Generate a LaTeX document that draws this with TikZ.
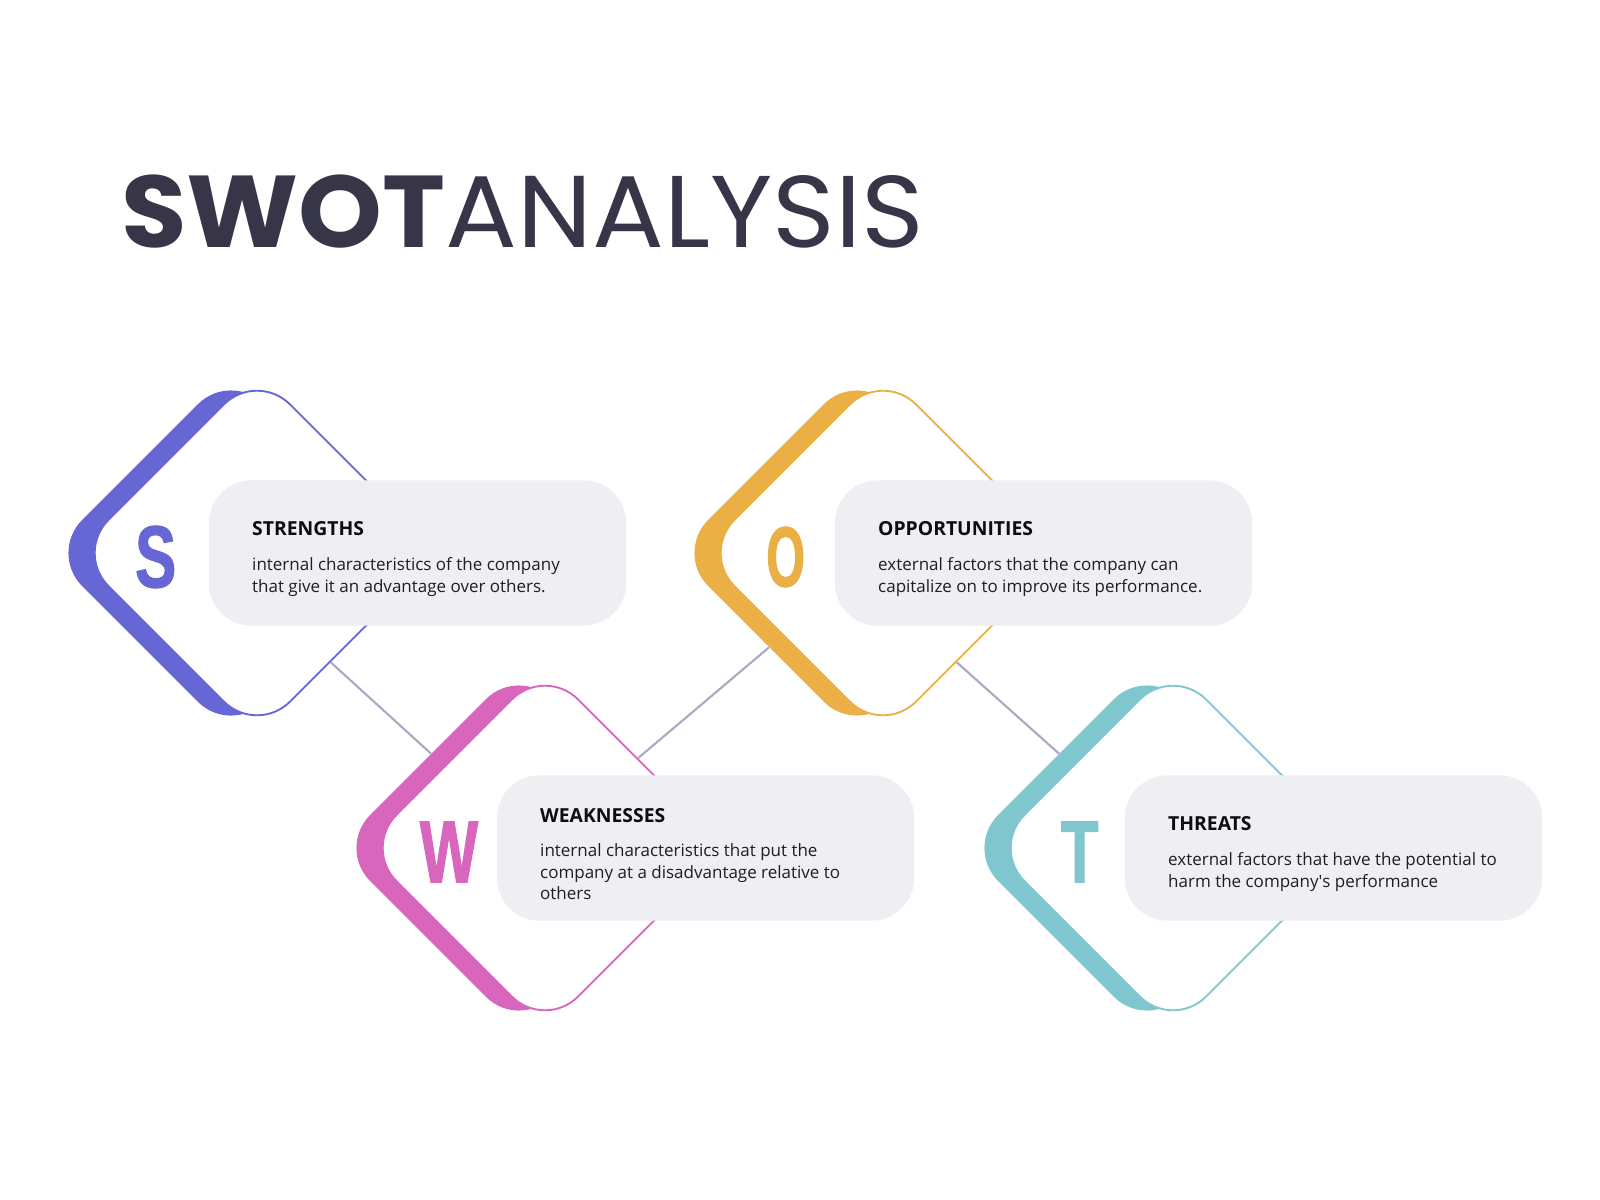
\documentclass[tikz,border=0pt]{standalone}
\usepackage{fontspec}
\setmainfont{Open Sans}
\newfontfamily\titlefont[FakeStretch=1.045]{Poppins}
\newfontfamily\letterfont[FakeStretch=0.7, FakeBold=1.2]{Liberation Sans}
\newfontfamily\roundletterfont[FakeStretch=0.58, FakeBold=1.2]{Liberation Sans}
\usepackage{tikz}
\usetikzlibrary{shapes.geometric,positioning}

\definecolor{scol}{HTML}{6666D5}
\definecolor{wcol}{HTML}{D766BC}
\definecolor{ocol}{HTML}{EAB045}
\definecolor{tcol}{HTML}{7FC6CE}
\definecolor{titlecol}{HTML}{373548}
\definecolor{boxcol}{HTML}{EEEEF3}
\definecolor{linkcol}{HTML}{ABA9C3}

\tikzset{
  backdiamond/.style = {diamond, minimum width = 273pt, minimum height = 273pt, inner sep = 0pt, rounded corners = 35pt, fill = #1},
  frontdiamond/.style = {diamond, minimum width = 273pt, minimum height = 273pt, inner sep = 0pt, rounded corners = 35pt, draw = #1, line width = 1.4pt, fill = white},
  bigletter/.style = {text = #1, inner sep = 0pt, yshift = -3pt, font = \letterfont\bfseries\fontsize{66pt}{66pt}\selectfont},
  infobox/.style = {shape = rectangle, rounded corners = 32pt, fill = boxcol, minimum width = 313pt, minimum height = 109pt},
  infotext/.style = {anchor = west, align = left, inner sep = 0pt, text = black!88, font = \fontsize{12.75pt}{16.1pt}\selectfont},
  link/.style = {draw = linkcol, line width = 1.6pt}
}
\newcommand{\swothead}[1]{{\fontsize{14.5pt}{16.1pt}\selectfont\bfseries\color{black!95}#1}}

\begin{document}
\begin{tikzpicture}[x = 0.75pt, y = -0.75pt]
\useasboundingbox (0,0) rectangle (1600,1200);

\node[anchor = base west, inner sep = 0pt, text = titlecol, font = \titlefont\fontsize{76.5pt}{80pt}\selectfont] (title) at (121,247) {{\bfseries SWOT}ANALYSIS};

% shadows and diamonds
\node[backdiamond = scol, xshift = -19.5pt] (Ssh) at (257,553) {};
\node[backdiamond = wcol, xshift = -19.5pt] (Wsh) at (545,848) {};
\node[backdiamond = ocol, xshift = -19.5pt] (Osh) at (883,553) {};
\node[backdiamond = tcol, xshift = -19.5pt] (Tsh) at (1173,848) {};
\node[frontdiamond = scol] (S) at (257,553) {};
\node[frontdiamond = wcol] (W) at (545,848) {};
\node[frontdiamond = ocol] (O) at (883,553) {};
\node[frontdiamond = tcol] (T) at (1173,848) {};

% letters
\node[bigletter = scol, xshift = -76pt] (Sletter) at (S) {S};
\node[bigletter = wcol, xshift = -72pt] (Wletter) at (W) {W};
\node[bigletter = ocol, xshift = -73pt, font = \roundletterfont\bfseries\fontsize{64pt}{64pt}\selectfont] (Oletter) at (O) {O};
\node[bigletter = tcol, xshift = -70pt] (Tletter) at (T) {T};

% text boxes
\node[infobox, xshift = 120.4pt] (Sbox) at (S) {};
\node[infobox, xshift = 120.4pt] (Wbox) at (W) {};
\node[infobox, xshift = 120.4pt] (Obox) at (O) {};
\node[infobox, xshift = 120.4pt] (Tbox) at (T) {};

\node[infotext, xshift = 32.5pt, yshift = -4.5pt] (Stext) at (Sbox.west) {\swothead{STRENGTHS}\\[10pt]
internal characteristics of the company\\
that give it an advantage over others.};
\node[infotext, xshift = 32.5pt, yshift = -4.5pt] (Wtext) at (Wbox.west) {\swothead{WEAKNESSES}\\[10pt]
internal characteristics that put the\\
company at a disadvantage relative to\\
others};
\node[infotext, xshift = 32.5pt, yshift = -4.5pt] (Otext) at (Obox.west) {\swothead{OPPORTUNITIES}\\[10pt]
external factors that the company can\\
capitalize on to improve its performance.};
\node[infotext, xshift = 32.5pt, yshift = -4.5pt] (Ttext) at (Tbox.west) {\swothead{THREATS}\\[10pt]
external factors that have the potential to\\
harm the company\textquotesingle s performance};

% connectors
\draw[link] (S.-56.8) -- (Wsh.133.5);
\draw[link] (Osh.227.2) -- (W.44.4);
\draw[link] (O.-56.8) -- (Tsh.133.5);
\end{tikzpicture}
\end{document}
